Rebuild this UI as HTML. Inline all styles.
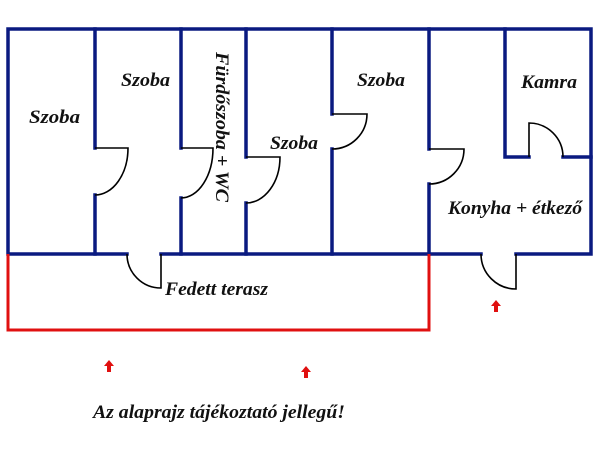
<!DOCTYPE html>
<html><head><meta charset="utf-8"><style>
html,body{margin:0;padding:0;background:#fff;width:600px;height:450px;overflow:hidden}
text{font-family:"Liberation Serif",serif;font-weight:bold;font-style:italic;font-size:19px;fill:#111}
</style></head><body>
<svg width="600" height="450" viewBox="0 0 600 450" xmlns="http://www.w3.org/2000/svg">
<g fill="none" stroke="#0a1a80" stroke-width="3.5" stroke-linecap="square">
<path d="M8 254 V29 H591 V254 H516 M481 254 H161 M127 254 H8"/>
<path d="M95 29 V148 M95 195 V254"/>
<path d="M181 29 V148 M181 198 V254"/>
<path d="M246 29 V157 M246 203 V254"/>
<path d="M332 29 V114 M332 149 V254"/>
<path d="M429 29 V149 M429 184 V254"/>
<path d="M505 29 V157 H529 M563 157 H591"/>
</g>
<g fill="none" stroke="#000" stroke-width="1.6">
<path d="M95 148 H128 A33 47 0 0 1 95 195"/>
<path d="M181 148 H213 A32 50 0 0 1 181 198"/>
<path d="M246 157 H280 A34 46 0 0 1 246 203"/>
<path d="M332 114 H367 A35 35 0 0 1 332 149"/>
<path d="M429 149 H464 A35 35 0 0 1 429 184"/>
<path d="M529 157 V123 A34 34 0 0 1 563 157"/>
<path d="M161 254 V288 A34 34 0 0 1 127 254"/>
<path d="M516 254 V289 A35 35 0 0 1 481 254"/>
</g>
<path d="M8 254 V330 H429 V254" fill="none" stroke="#e01010" stroke-width="3"/>
<g fill="#e01010">
<path d="M496 300 L501 306 H498 V312 H494 V306 H491 Z"/>
<path d="M109 360 L114 366 H111 V372 H107 V366 H104 Z"/>
<path d="M306 366 L311 372 H308 V378 H304 V372 H301 Z"/>
</g>
<text x="29" y="123" textLength="51" lengthAdjust="spacingAndGlyphs">Szoba</text>
<text x="121" y="86" textLength="49" lengthAdjust="spacingAndGlyphs">Szoba</text>
<text x="270" y="149" textLength="48" lengthAdjust="spacingAndGlyphs">Szoba</text>
<text x="357" y="86" textLength="48" lengthAdjust="spacingAndGlyphs">Szoba</text>
<text x="521" y="88" textLength="56" lengthAdjust="spacingAndGlyphs">Kamra</text>
<text x="448" y="214" textLength="134" lengthAdjust="spacingAndGlyphs">Konyha + étkező</text>
<text x="165" y="295" textLength="103" lengthAdjust="spacingAndGlyphs">Fedett terasz</text>
<text transform="translate(216,52) rotate(90)" textLength="150" lengthAdjust="spacingAndGlyphs">Fürdőszoba + WC</text>
<text x="93" y="418" textLength="252" lengthAdjust="spacingAndGlyphs">Az alaprajz tájékoztató jellegű!</text>
</svg>
</body></html>
